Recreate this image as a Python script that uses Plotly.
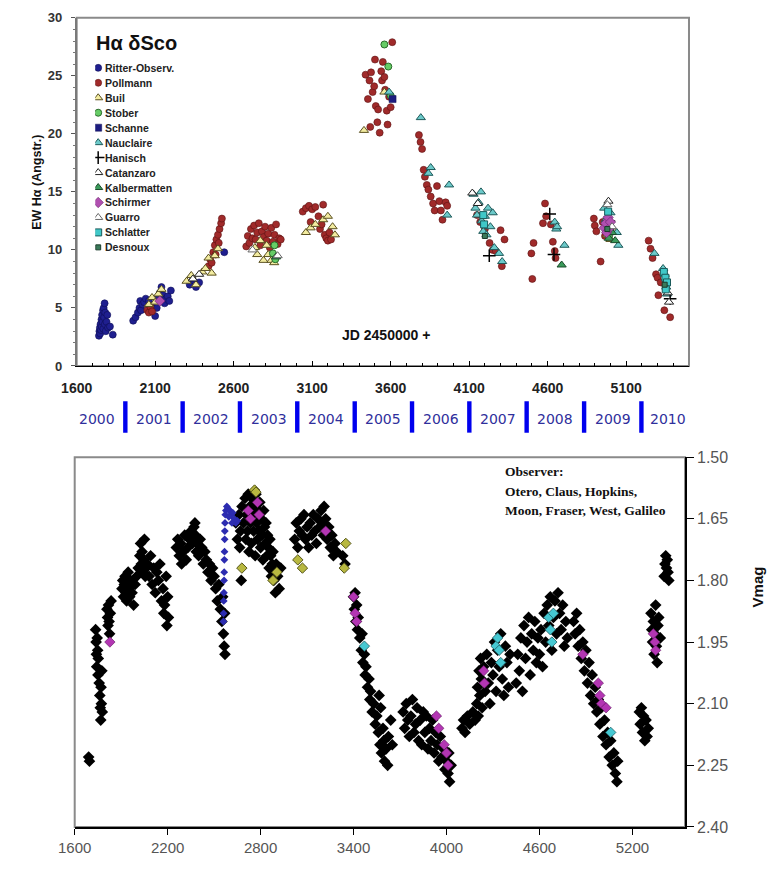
import plotly.graph_objects as go

# ---------------- DATA : upper panel  (EW H-alpha [Angstr.] vs JD-2450000) ----------------
ritter = [(1742,2.6),(1745,3.0),(1748,3.3),(1750,2.8),(1752,3.6),(1755,3.1),(1758,4.0),(1760,3.4),
          (1762,4.4),(1765,3.8),(1768,4.8),(1770,3.2),(1772,5.0),(1775,4.2),(1778,5.4),(1780,3.6),
          (1782,4.6),(1785,3.0),(1790,3.8),(1795,4.4),(1800,3.3),(1812,3.4),(1830,2.7),
          (1960,3.9),(1975,4.2),(1990,4.6),(2000,5.0),(2005,5.6),(2010,4.8),(2020,5.3),(2030,5.5),
          (2040,5.8),(2060,5.6),(2080,5.2),(2100,4.3),(2110,5.0),(2120,5.9),(2130,6.3),(2140,6.8),
          (2150,6.1),(2160,5.4),(2170,5.8),(2180,6.0),(2190,5.6),(2200,6.5),
          (2320,7.0),(2340,7.4),(2360,6.8),(2380,7.2),(2540,9.8)]
pollmann = [(2050,4.8),(2060,4.6),(2070,5.1),(2080,4.7),
            (2440,8.6),(2450,9.2),(2460,8.9),(2470,9.8),(2480,10.4),(2485,9.6),(2490,10.9),(2500,11.3),
            (2505,10.6),(2510,11.8),(2520,12.3),(2525,12.7),
            (2680,10.3),(2690,11.2),(2700,10.6),(2710,11.8),(2720,11.0),(2730,12.1),(2740,10.9),(2750,11.5),
            (2760,12.3),(2770,10.4),(2780,11.6),(2790,11.1),(2800,12.0),(2810,10.8),(2820,11.4),(2830,10.2),
            (2840,11.9),(2850,10.7),(2860,11.3),(2870,12.2),(2880,10.5),(2890,11.0),(2900,10.9),
            (3040,13.3),(3060,13.6),(3080,13.8),(3090,12.4),(3100,13.5),(3120,13.7),(3140,12.9),(3150,11.8),
            (3160,12.2),(3170,13.9),(3180,11.3),(3190,11.0),(3200,10.8),(3210,11.5),(3220,10.9),
            (3440,25.1),(3455,23.0),(3465,24.6),(3475,25.3),(3485,23.6),(3495,24.1),(3500,26.4),(3505,22.4),
            (3515,21.0),(3520,22.1),(3530,20.1),(3540,25.4),(3545,24.6),(3550,26.2),(3560,24.9),(3565,23.8),
            (3575,22.0),(3580,20.8),(3590,23.2),(3600,22.3),(3610,27.9),(3470,20.6),
            (3780,19.9),(3790,19.3),(3800,18.7),(3810,16.9),(3818,16.3),(3830,15.6),(3840,15.2),(3855,14.6),
            (3870,14.0),(3880,13.4),(3895,15.5),(3910,14.2),(3920,13.4),(3930,12.6),(3950,14.1),(3960,13.8),
            (4150,13.0),(4170,12.4),(4200,11.8),(4230,10.6),(4250,10.0),(4270,9.9),(4300,11.7),(4308,8.6),
            (4325,10.9),
            (4496,9.7),(4502,7.5),(4510,10.6),(4570,12.3),(4583,14.0),(4590,12.9),(4620,12.2),(4633,10.7),
            (4645,9.9),(4650,9.3),
            (4894,12.7),(4900,12.1),(4910,11.6),(4937,9.0),(4950,12.4),(4965,11.2),
            (5243,10.8),(5255,10.1),(5268,9.3),(5290,7.9),(5300,7.6),(5305,6.1),(5320,7.2),(5343,4.8),(5380,4.2)]
buil = [(2060,5.3),(2080,5.9),(2100,5.5),(2120,6.2),(2140,6.6),(2300,7.3),(2330,7.8),(2360,7.0),(2400,8.1),
        (2420,8.4),(2440,9.3),(2460,8.0),(2480,9.5),(2500,10.1),
        (2735,10.2),(2750,9.6),(2770,10.8),(2790,9.1),(2810,10.4),(2820,9.6),(2840,9.1),(2858,8.9),
        (3060,11.5),(3090,11.9),(3120,12.2),(3170,12.6),(3200,12.9),(3230,12.0),(3245,11.3),
        (3430,20.3),(3560,23.6),(4980,11.3),(5000,10.9),(5020,11.7)]
stober = [(2850,9.7),(2860,10.4),(2865,9.2),(3560,27.7),(3585,25.8),(3600,23.3),(4990,11.2)]
schanne = [(3612,23.0),(4980,12.6),(4990,12.0),(5000,11.6)]
nauclaire = [(3590,23.6),(3792,21.4),(3840,16.6),(3855,17.1),(3960,13.0),(3972,15.6),(4128,14.8),(4140,13.6),
             (4150,13.0),(4160,14.1),(4175,15.0),(4180,12.5),(4190,11.6),(4200,12.9),(4210,11.3),(4220,13.6),
             (4235,12.0),(4250,13.2),(4260,10.2),(4290,9.7),(4310,9.0),(4645,12.4),(4655,11.8),(4660,12.0),
             (4707,10.4),(4960,13.6),(4970,12.6),(5000,13.2),(5040,11.5),(5050,10.4),(5280,9.7),(5335,8.4),
             (5345,7.9),(5355,6.8),(5360,6.2)]
hanisch = [(4228,9.5),(4613,13.1),(4640,9.6),(4990,12.5),(5380,5.8)]
catanzaro = [(2340,7.5),(2380,7.9),(4120,14.9),(4155,14.0),(4987,14.2),(5373,5.5),(5365,6.3)]
kalbermatten = [(2870,9.4),(4689,8.7),(4990,11.0),(5010,11.5),(5030,10.8)]
schirmer = [(2130,5.6),(4960,11.9),(4970,12.3),(4975,11.5),(4985,12.8),(4995,11.9),(5000,12.4)]
guarro = [(2720,10.0),(2880,9.5),(4980,13.9),(5010,12.0)]
schlatter = [(4190,13.0),(4195,12.2),(4985,13.3),(5340,8.1),(5350,7.6),(5360,7.2),(5352,6.6)]
desnoux = [(4200,11.2),(4980,11.8),(5345,7.0)]

top_xticks = [1600, 2100, 2600, 3100, 3600, 4100, 4600, 5100]
top_yticks = [0, 5, 10, 15, 20, 25, 30]

# year strip
year_labels = ["2000","2001","2002","2003","2004","2005","2006","2007","2008","2009","2010"]
year_starts = [1910, 2275, 2640, 3005, 3371, 3736, 4101, 4466, 4832, 5197]   # JD of 1 Jan 2001..2010

# ---------------- DATA : lower panel  (V mag vs JD-2450000) ----------------
vmag_black = [(1690,2.23),(1695,2.24),
    (1735,1.92),(1738,1.95),(1740,1.98),(1742,2.01),(1745,1.94),(1748,1.97),(1750,2.03),(1752,1.99),
    (1758,2.05),(1762,2.08),(1765,2.11),(1768,2.14),(1770,2.06),(1772,2.10),(1775,2.02),(1778,2.12),
    (1808,1.87),(1812,1.89),(1815,1.91),(1818,1.86),(1822,1.90),(1825,1.93),(1830,1.88),(1835,1.85),
    (1905,1.82),(1910,1.80),(1915,1.84),(1920,1.81),(1925,1.79),(1930,1.83),(1935,1.85),(1940,1.81),
    (1945,1.78),(1950,1.82),(1955,1.84),(1960,1.80),(1970,1.83),(1980,1.86),(1990,1.81),(2000,1.79),
    (2010,1.77),(2020,1.74),(2025,1.71),(2030,1.76),(2035,1.73),(2040,1.78),(2045,1.75),(2050,1.70),
    (2055,1.79),(2060,1.77),(2070,1.76),(2080,1.79),(2090,1.74),(2100,1.81),(2110,1.77),(2120,1.83),
    (2130,1.78),(2140,1.80),(2150,1.76),(2160,1.85),(2170,1.82),(2175,1.88),(2180,1.86),(2190,1.79),
    (2195,1.91),(2200,1.84),(2205,1.89),
    (2256,1.72),(2265,1.70),(2275,1.74),(2285,1.71),(2290,1.76),(2300,1.73),(2310,1.69),(2320,1.75),
    (2330,1.72),(2340,1.70),(2350,1.68),(2360,1.71),(2370,1.67),(2376,1.66),(2380,1.69),(2385,1.73),
    (2390,1.71),(2400,1.74),(2410,1.70),(2420,1.72),(2430,1.76),(2440,1.73),(2450,1.75),(2460,1.78),
    (2470,1.76),(2480,1.80),(2490,1.77),(2500,1.79),(2510,1.82),(2520,1.85),(2530,1.81),(2540,1.87),
    (2550,1.90),(2555,1.84),(2560,1.93),(2565,1.96),(2568,1.88),(2570,1.98),
    (2640,1.66),(2650,1.70),(2660,1.64),(2665,1.72),(2670,1.68),(2675,1.80),(2680,1.62),(2690,1.66),
    (2700,1.60),(2705,1.70),(2710,1.64),(2715,1.68),(2720,1.59),(2725,1.73),(2730,1.62),(2735,1.66),
    (2740,1.71),(2745,1.60),(2750,1.64),(2755,1.68),(2760,1.62),(2765,1.74),(2770,1.59),(2775,1.66),
    (2780,1.70),(2785,1.63),(2790,1.68),(2795,1.61),(2800,1.72),(2805,1.65),(2810,1.69),(2815,1.75),
    (2820,1.63),(2825,1.67),(2830,1.71),(2835,1.66),(2840,1.74),(2845,1.69),(2850,1.72),(2855,1.77),
    (2860,1.70),(2865,1.74),(2870,1.79),(2875,1.76),(2880,1.73),(2885,1.80),(2890,1.78),(2895,1.83),
    (2900,1.76),(2910,1.79),(2920,1.82),(2930,1.77),
    (3020,1.70),(3030,1.66),(3040,1.72),(3050,1.68),(3060,1.65),(3070,1.69),(3080,1.64),(3090,1.70),
    (3100,1.67),(3110,1.72),(3120,1.66),(3130,1.69),(3140,1.64),(3150,1.68),(3160,1.71),(3170,1.65),
    (3180,1.67),(3190,1.63),(3200,1.66),(3205,1.69),(3210,1.62),(3220,1.65),(3230,1.70),(3240,1.67),
    (3250,1.72),(3260,1.69),(3270,1.74),(3280,1.71),(3290,1.73),(3330,1.74),(3345,1.76),
    (3400,1.84),(3405,1.87),(3410,1.83),(3415,1.90),(3420,1.86),(3425,1.92),(3430,1.89),(3440,1.94),
    (3450,1.97),(3455,1.93),(3460,2.00),(3470,1.98),(3475,2.03),(3480,2.01),(3490,2.06),(3500,2.04),
    (3505,2.09),(3510,2.07),(3520,2.12),(3530,2.10),(3540,2.15),(3550,2.13),(3560,2.17),(3565,2.08),
    (3570,2.20),(3575,2.11),(3580,2.22),(3590,2.16),(3595,2.19),(3600,2.24),(3610,2.21),(3620,2.25),
    (3625,2.18),(3640,2.14),(3650,2.20),
    (3720,2.12),(3730,2.16),(3740,2.10),(3750,2.14),(3760,2.18),(3770,2.13),(3780,2.09),(3790,2.17),
    (3800,2.15),(3810,2.11),(3820,2.19),(3830,2.14),(3840,2.20),(3850,2.12),(3860,2.17),(3870,2.13),
    (3880,2.21),(3890,2.16),(3900,2.19),(3910,2.14),(3920,2.22),(3930,2.17),(3940,2.20),(3950,2.24),
    (3960,2.18),(3970,2.23),(3980,2.21),(3990,2.26),(4000,2.24),(4010,2.27),(4015,2.22),(4020,2.29),
    (4030,2.25),
    (4100,2.16),(4110,2.14),(4120,2.17),(4135,2.13),(4150,2.15),(4170,2.12),(4185,2.14),(4195,2.10),
    (4200,2.06),(4205,2.13),(4210,2.02),(4215,2.08),(4220,1.99),(4225,2.04),(4230,2.11),(4240,2.01),
    (4250,2.07),(4260,1.98),(4270,2.05),(4280,2.10),(4290,2.00),(4300,2.03),(4310,1.95),(4320,2.07),
    (4330,1.97),(4340,2.01),(4350,1.93),(4360,2.04),(4370,2.08),(4380,1.96),(4390,2.00),(4400,2.06),
    (4410,1.98),
    (4450,2.05),(4460,1.98),(4470,2.02),(4480,1.94),(4490,2.07),(4500,1.91),(4510,1.99),(4520,1.95),
    (4530,1.89),(4540,2.03),(4550,1.93),(4560,1.97),(4570,1.90),(4580,2.00),(4590,1.94),(4600,1.98),
    (4610,1.92),(4620,2.01),(4630,1.88),(4640,1.95),(4650,1.86),(4660,1.91),(4670,1.84),(4680,1.97),
    (4690,1.89),(4700,1.85),(4710,1.93),(4720,1.83),(4730,1.88),(4740,1.92),(4750,1.86),(4760,1.96),
    (4770,1.90),(4780,1.94),
    (4820,1.90),(4830,1.93),(4840,1.88),(4850,1.96),(4860,1.92),(4870,1.99),(4880,1.95),(4890,2.02),
    (4900,1.97),(4910,2.05),(4920,2.00),(4930,2.08),(4940,2.03),(4950,2.10),(4960,2.06),(4970,2.12),
    (4980,2.09),(4990,2.15),(5000,2.11),(5010,2.18),(5020,2.14),(5030,2.20),(5040,2.17),(5050,2.23),
    (5060,2.19),(5070,2.25),(5080,2.22),(5090,2.27),(5100,2.29),(5105,2.24),
    (5245,2.12),(5250,2.15),(5258,2.11),(5265,2.17),(5272,2.13),(5280,2.19),(5288,2.14),(5295,2.18),
    (5302,2.16),
    (5320,1.88),(5325,1.92),(5330,1.95),(5335,1.90),(5340,1.98),(5345,1.93),(5350,1.86),(5355,1.96),
    (5360,2.00),(5365,1.91),(5370,1.89),(5380,1.94),
    (5405,1.79),(5410,1.76),(5415,1.74),(5420,1.77),(5425,1.75),(5430,1.78),(5435,1.80)]
vmag_blue = [(2560,1.90),(2561,1.88),(2562,1.85),(2563,1.83),(2564,1.80),(2565,1.78),(2566,1.75),(2567,1.73),
             (2568,1.70),(2569,1.68),(2570,1.66),(2572,1.64),(2576,1.63),(2582,1.62),(2590,1.625),(2600,1.63),
             (2610,1.64),(2620,1.635),(2630,1.65),(2640,1.66),(2650,1.655),(2595,1.645),(2615,1.66)]
vmag_magenta = [(1827,1.95),(2720,1.63),(2735,1.65),(2780,1.61),(2790,1.64),(3220,1.68),(3400,1.84),(3410,1.88),
                (3420,1.90),(3935,2.13),(3950,2.16),(3985,2.20),(4000,2.22),(4010,2.25),(4240,2.02),(4245,2.05),
                (4880,1.98),(4980,2.05),(4990,2.08),(5000,2.10),(5030,2.11),(5335,1.93),(5345,1.95),(5350,1.97)]
vmag_olive = [(2679,1.77),(2761,1.58),(2770,1.585),(2880,1.80),(2905,1.78),(3040,1.75),(3070,1.77),
              (3340,1.77),(3350,1.71)]
vmag_cyan = [(3470,1.96),(4320,1.96),(4330,1.94),(4340,1.97),(4350,2.00),(4660,1.89),(4670,1.92),
             (4680,1.95),(4690,1.88),(5060,2.17)]

bottom_xticks = [1600, 2200, 2800, 3400, 4000, 4600, 5200]
vmag_ticks = [1.50, 1.65, 1.80, 1.95, 2.10, 2.25, 2.40]
observer_lines = ["Observer:", "Otero, Claus, Hopkins,", "Moon, Fraser, West, Galileo"]

# ---------------- FIGURE ----------------
W, H = 778, 882
def px(x): return x / W
def py(y): return 1 - y / H

fig = go.Figure()

top_series = [
    ("Ritter-Observ.", ritter, dict(symbol="circle", size=7, color="#1f1f8f", line=dict(color="#0d0d55", width=0.6))),
    ("Pollmann", pollmann, dict(symbol="circle", size=7, color="#a02a2a", line=dict(color="#5a1212", width=0.6))),
    ("Buil", buil, dict(symbol="triangle-up", size=8, color="#f3eca0", line=dict(color="#5a5020", width=1))),
    ("Stober", stober, dict(symbol="circle", size=7, color="#66cc66", line=dict(color="#2a6a2a", width=1))),
    ("Schanne", schanne, dict(symbol="square", size=7, color="#1c1c80", line=dict(color="#0d0d50", width=0.5))),
    ("Nauclaire", nauclaire, dict(symbol="triangle-up", size=8, color="#6ccaca", line=dict(color="#1f5a5a", width=1))),
    ("Hanisch", hanisch, dict(symbol="cross-thin", size=9, color="black", line=dict(color="black", width=1.5))),
    ("Catanzaro", catanzaro, dict(symbol="triangle-up", size=8, color="white", line=dict(color="#222222", width=1))),
    ("Kalbermatten", kalbermatten, dict(symbol="triangle-up", size=8, color="#3a9a5a", line=dict(color="#1a4a2a", width=1))),
    ("Schirmer", schirmer, dict(symbol="diamond", size=8, color="#b050b0", line=dict(color="#6a206a", width=0.6))),
    ("Guarro", guarro, dict(symbol="triangle-up", size=8, color="white", line=dict(color="#666666", width=1))),
    ("Schlatter", schlatter, dict(symbol="square", size=7, color="#40c8c8", line=dict(color="#1a5a5a", width=1))),
    ("Desnoux", desnoux, dict(symbol="square", size=5, color="#3a7a5a", line=dict(color="#1a3a2a", width=1))),
]

for name, pts, mk in top_series:
    fig.add_trace(go.Scatter(x=[p[0] for p in pts], y=[p[1] for p in pts], mode="markers",
                             marker=mk, name=name, showlegend=False, xaxis="x", yaxis="y"))

# hand-made legend (one row per series)
for i, (name, pts, mk) in enumerate(top_series):
    fig.add_trace(go.Scatter(x=[3], y=[i], mode="markers", marker=mk, showlegend=False,
                             hoverinfo="skip", xaxis="x3", yaxis="y3"))
    fig.add_annotation(x=8, y=i, xref="x3", yref="y3", text=name, showarrow=False,
                       xanchor="left", yanchor="middle",
                       font=dict(family="Liberation Sans Narrow, Arial Narrow, Arial", size=10.5,
                                 color="#222222", weight="bold"))

# lower panel
low_series = [
    (vmag_black, dict(symbol="diamond", size=9, color="black")),
    (vmag_blue, dict(symbol="diamond", size=6, color="#2c2cb0")),
    (vmag_magenta, dict(symbol="diamond", size=8, color="#b336b3", line=dict(color="#5a105a", width=0.6))),
    (vmag_olive, dict(symbol="diamond", size=8, color="#b8b840", line=dict(color="#55551a", width=1))),
    (vmag_cyan, dict(symbol="diamond", size=8, color="#46c8d2", line=dict(color="#1c5a60", width=0.8))),
]
for pts, mk in low_series:
    fig.add_trace(go.Scatter(x=[p[0] for p in pts], y=[p[1] for p in pts], mode="markers",
                             marker=mk, showlegend=False, xaxis="x2", yaxis="y2"))

# frames
fig.add_shape(type="rect", xref="x domain", yref="y domain", x0=0, x1=1, y0=0, y1=1,
              line=dict(color="#8a8a8a", width=2), layer="below")
fig.add_shape(type="rect", xref="x2 domain", yref="y2 domain", x0=0, x1=1, y0=0, y1=1,
              line=dict(color="#8a8a8a", width=2), layer="below")

# year strip
for b in year_starts:
    fig.add_shape(type="rect", xref="x", yref="paper", x0=b - 14, x1=b + 14,
                  y0=py(433), y1=py(401), fillcolor="#0000ee", line=dict(width=0))
year_centres = [year_starts[0] - 182] + [(a + b) / 2 for a, b in zip(year_starts[:-1], year_starts[1:])] \
               + [year_starts[-1] + 170]
for lab, c in zip(year_labels, year_centres):
    fig.add_annotation(x=c, y=py(419), xref="x", yref="paper", text=lab, showarrow=False,
                       font=dict(family="DejaVu Sans", size=14, color="#2f2f9c"))

# texts
fig.add_annotation(x=px(79), y=py(36), xref="paper", yref="paper", text="Hα δSco", showarrow=False,
                   xanchor="left", yanchor="middle",
                   font=dict(family="Arial", size=20, color="#111111", weight="bold"))
fig.add_annotation(x=px(377), y=py(333), xref="paper", yref="paper", text="JD 2450000 +", showarrow=False,
                   font=dict(family="Arial", size=14, color="#111111", weight="bold"))
fig.add_annotation(x=px(11), y=py(127), xref="paper", yref="paper", text="EW Hα (Angstr.)", showarrow=False,
                   textangle=-90, font=dict(family="Arial", size=12.5, color="#111111", weight="bold"))
fig.add_annotation(x=px(768), y=py(613), xref="paper", yref="paper", text="Vmag", showarrow=False,
                   textangle=-90, font=dict(family="Arial", size=15, color="#111111", weight="bold"))
for k, line in enumerate(observer_lines):
    fig.add_annotation(x=px(497), y=py(473 + 19.5 * k), xref="paper", yref="paper", text=line,
                       showarrow=False, xanchor="left", yanchor="middle",
                       font=dict(family="Liberation Serif", size=13.5, color="#111111", weight="bold"))

fig.update_layout(
    width=W, height=H, margin=dict(l=0, r=0, t=0, b=0),
    paper_bgcolor="white", plot_bgcolor="rgba(0,0,0,0)", showlegend=False,
    xaxis=dict(domain=[px(61), px(687)], range=[1600, 5500], anchor="y",
               tickmode="array", tickvals=top_xticks, ticks="inside", ticklen=5, tickcolor="black",
               minor=dict(ticks="inside", ticklen=3, dtick=100, tick0=1600, tickcolor="black"),
               showline=True, linecolor="black", linewidth=1, showgrid=False, zeroline=False,
               ticklabelstandoff=9,
               tickfont=dict(family="Arial", size=14, color="#222222", weight="bold")),
    yaxis=dict(domain=[py(365), py(10)], range=[0, 30], anchor="x",
               tickmode="array", tickvals=top_yticks, ticks="outside", ticklen=4, tickcolor="#555",
               minor=dict(ticks="outside", ticklen=2, dtick=1, tickcolor="#777"),
               showline=True, linecolor="#7a7a7a", linewidth=1.5, showgrid=False, zeroline=False,
               ticklabelstandoff=6,
               tickfont=dict(family="Arial", size=13, color="#333333", weight="bold")),
    xaxis2=dict(domain=[px(59), px(683)], range=[1600, 5540], anchor="y2",
                tickmode="array", tickvals=bottom_xticks, ticks="outside", ticklen=6, tickcolor="black",
                showline=True, linecolor="black", linewidth=1.5, showgrid=False, zeroline=False,
                tickfont=dict(family="Arial", size=15, color="#555555")),
    yaxis2=dict(domain=[py(835), py(458)], range=[2.40, 1.50], anchor="x2", side="right",
                tickmode="array", tickvals=vmag_ticks, ticktext=[f"{v:.2f}" for v in vmag_ticks],
                ticks="outside", ticklen=7, tickcolor="black",
                showline=True, linecolor="black", linewidth=1.5, showgrid=False, zeroline=False,
                tickfont=dict(family="Arial", size=16, color="#555555")),
    xaxis3=dict(domain=[px(80), px(200)], range=[0, 120], anchor="y3", visible=False, fixedrange=True),
    yaxis3=dict(domain=[py(251.7), py(53.4)], range=[12.5, -0.5], anchor="x3", visible=False, fixedrange=True),
)

fig.write_html("out.html", config={"displayModeBar": False},
               post_script="document.body.style.margin='0px';document.body.style.overflow='hidden';")
